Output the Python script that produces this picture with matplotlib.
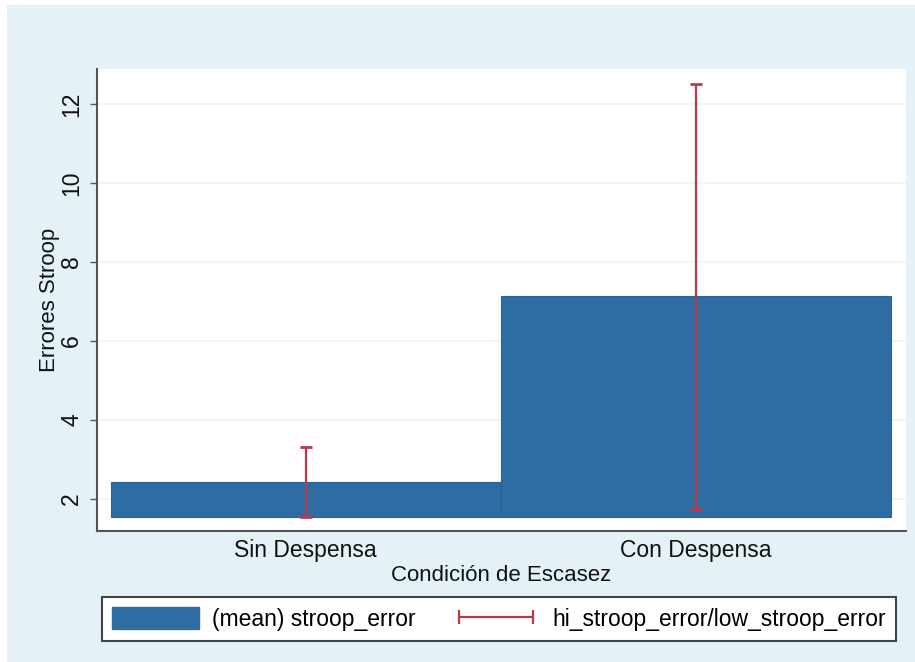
import matplotlib
matplotlib.use("Agg")
import matplotlib.pyplot as plt
from matplotlib.patches import Patch, Rectangle
from matplotlib.lines import Line2D

plt.rcParams['font.family'] = ['Liberation Sans', 'DejaVu Sans']

# Data
categories = ["Sin Despensa", "Con Despensa"]
mean_error = [2.43, 7.14]
hi_error = [3.32, 12.5]
low_error = [1.54, 1.75]
bar_base = 1.54
y_ticks = [2, 4, 6, 8, 10, 12]

BAR = "#2e6ca4"
CI = "#b83a4e"
BG = "#e4f2f7"
FS = 16.5

W, H = 915, 662
fig = plt.figure(figsize=(W / 100, H / 100), dpi=100)
fig.patch.set_facecolor("white")
fig.patches.append(Rectangle((7 / W, 0), 1 - 7 / W, 1 - 5 / H,
                             transform=fig.transFigure, facecolor=BG,
                             edgecolor="none", zorder=-10))

ax = fig.add_axes([97 / W, 1 - 531 / H, (906 - 97) / W, (531 - 69) / H])
ax.set_facecolor("white")

x = list(range(len(categories)))
heights = [m - bar_base for m in mean_error]
ax.bar(x, heights, width=1.0, bottom=bar_base, color=BAR,
       edgecolor="#2a6398", linewidth=0.8, zorder=2)

for xi, lo, hi in zip(x, low_error, hi_error):
    ax.vlines(xi, lo, hi, color=CI, linewidth=1.6, zorder=3)
    ax.hlines([lo, hi], xi - 0.016, xi + 0.016, color=CI, linewidth=2.0, zorder=3)

ax.set_xlim(-0.535, 1.538)
ax.set_ylim(1.19, 12.89)
ax.set_yticks(y_ticks)
ax.set_yticklabels([str(t) for t in y_ticks], rotation=90, va="center")
ax.set_xticks(x)
ax.set_xticklabels(categories)
ax.tick_params(axis="y", length=5, width=1, color="#555555", labelsize=FS,
               pad=5, labelcolor="#111111")
ax.tick_params(axis="x", length=0, labelsize=FS, pad=6, labelcolor="#111111")
ax.grid(axis="y", color="#edf3f5", linewidth=1.2, zorder=0)
ax.set_axisbelow(True)

for s in ("top", "right"):
    ax.spines[s].set_visible(False)
for s in ("left", "bottom"):
    ax.spines[s].set_color("#555555")
    ax.spines[s].set_linewidth(1.5)

ax.set_ylabel("Errores Stroop", fontsize=16, color="#111111", labelpad=0)
ax.set_xlabel("Condición de Escasez", fontsize=16, color="#111111", labelpad=2)

handles = [
    Patch(facecolor=BAR, edgecolor=BAR),
    Line2D([0], [0], color=CI, linewidth=1.6, marker="|", markersize=10,
           markeredgewidth=1.6),
]
labels = ["(mean) stroop_error", "hi_stroop_error/low_stroop_error"]
leg = fig.legend(handles, labels, loc="center", bbox_to_anchor=(499 / W, 1 - 619 / H),
                 ncol=2, fontsize=FS, frameon=True, fancybox=False, framealpha=1,
                 handlelength=3.8, handleheight=1.05, handletextpad=0.55,
                 columnspacing=1.6, numpoints=2, borderpad=0.45,
                 borderaxespad=0)
leg.get_frame().set_edgecolor("#444444")
leg.get_frame().set_linewidth(1.5)
leg.get_frame().set_facecolor("white")

fig.savefig("out.png", dpi=100)
